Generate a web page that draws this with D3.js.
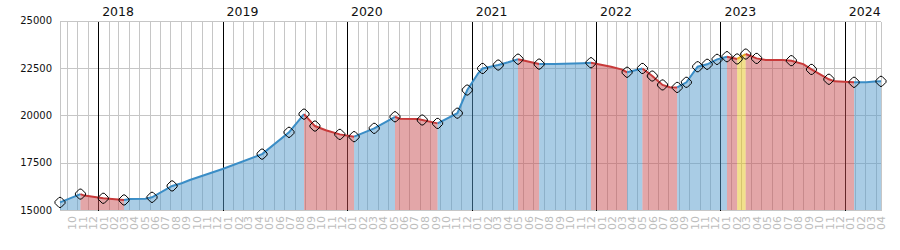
<!DOCTYPE html>
<html>
<head>
<meta charset="utf-8">
<script src="https://cdn.jsdelivr.net/npm/d3@7"></script>
<style>
  body { margin: 0; background: #fff; }
  svg { display: block; font-family: "DejaVu Sans", Verdana, sans-serif; }
</style>
</head>
<body>
<div id="chart"></div>
<script>
// value history
var pointDates = [
  "2017-09-11","2017-11-10","2017-11-22","2018-01-16","2018-03-18","2018-04-04","2018-05-19","2018-06-08",
  "2018-08-06","2018-09-03","2018-09-27","2019-01-01","2019-04-27","2019-07-15","2019-08-28","2019-09-29",
  "2019-10-31","2019-12-11","2020-01-22","2020-03-21","2020-05-21","2020-06-04","2020-07-27","2020-08-09",
  "2020-09-23","2020-11-20","2020-12-19","2021-01-20","2021-02-02","2021-03-20","2021-04-18","2021-05-17",
  "2021-07-18","2021-09-01","2021-11-23","2021-12-17","2022-02-14","2022-03-16","2022-04-02","2022-05-17",
  "2022-06-15","2022-07-15","2022-08-05","2022-08-27","2022-09-23","2022-10-26","2022-11-23","2022-12-22",
  "2023-01-20","2023-02-19","2023-03-16","2023-04-17","2023-05-14","2023-07-03","2023-07-28","2023-09-01",
  "2023-09-25","2023-11-15","2023-12-02","2024-01-28","2024-03-04","2024-03-28","2024-04-16"
];
var pointValues = [
  15400,15840,15760,15620,15530,15580,15600,15670,
  16270,16410,16580,17164,17950,19100,20060,19430,
  19210,18990,18870,19310,19920,19820,19800,19750,
  19570,20110,21330,22214,22470,22650,22794,22960,
  22700,22710,22750,22770,22560,22420,22270,22470,
  22070,21600,21480,21470,21740,22560,22690,22950,
  23090,22970,23230,23000,22920,22910,22880,22700,
  22420,21900,21790,21740,21745,21785,21790
];
// dates that carry a marker
var markerDates = [
  "2017-09-11","2017-11-10","2018-01-16","2018-03-18","2018-06-08","2018-08-06","2019-04-27","2019-07-15",
  "2019-08-28","2019-09-29","2019-12-11","2020-01-22","2020-03-21","2020-05-21","2020-08-09","2020-09-23",
  "2020-11-20","2020-12-19","2021-02-02","2021-03-20","2021-05-17","2021-07-18","2021-12-17","2022-04-02",
  "2022-05-17","2022-06-15","2022-07-15","2022-08-27","2022-09-23","2022-10-26","2022-11-23","2022-12-22",
  "2023-01-20","2023-02-19","2023-03-16","2023-04-17","2023-07-28","2023-09-25","2023-11-15","2024-01-28",
  "2024-04-16"
];
// trend phases: start date and kind (each runs to the next start)
var phaseStarts = [
  "2017-09-11","2017-11-10","2018-03-18","2019-08-28","2020-01-22","2020-05-21","2020-09-23","2021-05-17",
  "2021-07-18","2021-12-17","2022-04-02","2022-05-17","2022-08-27","2023-01-20","2023-02-19","2023-03-16",
  "2024-01-28"
];
var phaseKinds = [
  "up","down","up","down","up","down","up","down",
  "up","down","up","down","up","down","peak","down",
  "up"
];
var yTicks = [15000, 17500, 20000, 22500, 25000];

var colors = {
  up:   { line: "#3a8dc6", fill: "#5399cc" },
  down: { line: "#c83a3a", fill: "#c84e52" },
  peak: { line: "#e8b020", fill: "#e5c119" }
};

var parse = d3.timeParse("%Y-%m-%d");
var data = pointDates.map(function(d, i) {
  return { date: parse(d), value: pointValues[i] };
});
var markers = data.filter(function(d) {
  return markerDates.indexOf(d3.timeFormat("%Y-%m-%d")(d.date)) >= 0;
});
var startDate = data[0].date, endDate = data[data.length - 1].date;

var width = 900, height = 250;
var plotLeft = 60, plotRight = 881, plotTop = 20.5, plotBottom = 210;

var svg = d3.select("#chart").append("svg")
  .attr("width", width)
  .attr("height", height);

var x = d3.scaleTime().domain([startDate, endDate]).range([plotLeft, plotRight]);
var y = d3.scaleLinear().domain([15000, 25000]).range([plotBottom, plotTop]);

function px(v) { return Math.round(v) + 0.5; }

var grid = svg.append("g").attr("shape-rendering", "crispEdges");

// horizontal grid
grid.selectAll(".hg").data(yTicks).enter().append("line")
  .attr("x1", plotLeft).attr("x2", plotRight)
  .attr("y1", function(d) { return px(y(d)); })
  .attr("y2", function(d) { return px(y(d)); })
  .attr("stroke", "#c6c6c6");

// month grid
var months = d3.timeMonth.range(d3.timeMonth.ceil(startDate), endDate);
grid.selectAll(".mg").data(months).enter().append("line")
  .attr("x1", function(d) { return px(x(d)); })
  .attr("x2", function(d) { return px(x(d)); })
  .attr("y1", px(y(25000))).attr("y2", px(y(15000)))
  .attr("stroke", "#c6c6c6");

// left/right border
grid.selectAll(".bd").data([plotLeft, plotRight]).enter().append("line")
  .attr("x1", function(d) { return px(d); })
  .attr("x2", function(d) { return px(d); })
  .attr("y1", px(y(25000))).attr("y2", px(y(15000)))
  .attr("stroke", "#c6c6c6");

// year lines
var years = d3.timeYear.range(d3.timeYear.ceil(startDate), endDate);
grid.selectAll(".yg").data(years).enter().append("line")
  .attr("x1", function(d) { return px(x(d)); })
  .attr("x2", function(d) { return px(x(d)); })
  .attr("y1", px(y(25000))).attr("y2", px(y(15000)))
  .attr("stroke", "#000");

var area = d3.area()
  .x(function(d) { return x(d.date); })
  .y0(y(15000))
  .y1(function(d) { return y(d.value); });
var line = d3.line()
  .x(function(d) { return x(d.date); })
  .y(function(d) { return y(d.value); });

var phases = phaseStarts.map(function(s, i) {
  var a = parse(s);
  var b = i < phaseStarts.length - 1 ? parse(phaseStarts[i + 1]) : endDate;
  return {
    kind: phaseKinds[i],
    pts: data.filter(function(d) { return d.date >= a && d.date <= b; })
  };
});

svg.append("g").selectAll("path").data(phases).enter().append("path")
  .attr("d", function(d) { return area(d.pts); })
  .attr("fill", function(d) { return colors[d.kind].fill; })
  .attr("fill-opacity", 0.5);

svg.append("g").selectAll("path").data(phases).enter().append("path")
  .attr("d", function(d) { return line(d.pts); })
  .attr("fill", "none")
  .attr("stroke", function(d) { return colors[d.kind].line; })
  .attr("stroke-width", 2);

// markers
var mk = "M-1,-5L1,-5L5,-1L5,1L1,5L-1,5L-5,1L-5,-1Z";
svg.append("g").selectAll("path").data(markers).enter().append("path")
  .attr("d", mk)
  .attr("transform", function(d) { return "translate(" + x(d.date) + "," + y(d.value) + ")"; })
  .attr("fill", "none")
  .attr("stroke", "#000")
  .attr("stroke-width", 1);

// y axis labels
var yAxis = svg.append("g")
  .attr("transform", "translate(" + plotLeft + ",0)")
  .call(d3.axisLeft(y).tickValues(yTicks).tickSize(0).tickPadding(8).tickFormat(d3.format("d")));
yAxis.select(".domain").remove();
yAxis.selectAll("text").attr("fill", "#111").style("font-size", "10px")
  .style("font-family", "DejaVu Sans, Verdana, sans-serif");

// month labels
var mAxis = svg.append("g")
  .attr("transform", "translate(0," + plotBottom + ")")
  .call(d3.axisBottom(x).tickValues(months).tickSize(0).tickFormat(d3.timeFormat("%m")));
mAxis.select(".domain").remove();
mAxis.selectAll("text")
  .attr("transform", "rotate(-90)")
  .attr("x", -6).attr("y", 9).attr("dy", 0)
  .style("text-anchor", "end")
  .attr("fill", "#bdbdbd")
  .style("font-size", "11px")
  .style("font-family", "DejaVu Sans, Verdana, sans-serif");

// year labels
svg.append("g").selectAll("text").data(years).enter().append("text")
  .attr("x", function(d) { return x(d) + 4; })
  .attr("y", 16)
  .attr("fill", "#111")
  .style("font-size", "12.5px")
  .text(d3.timeFormat("%Y"));
</script>
</body>
</html>
